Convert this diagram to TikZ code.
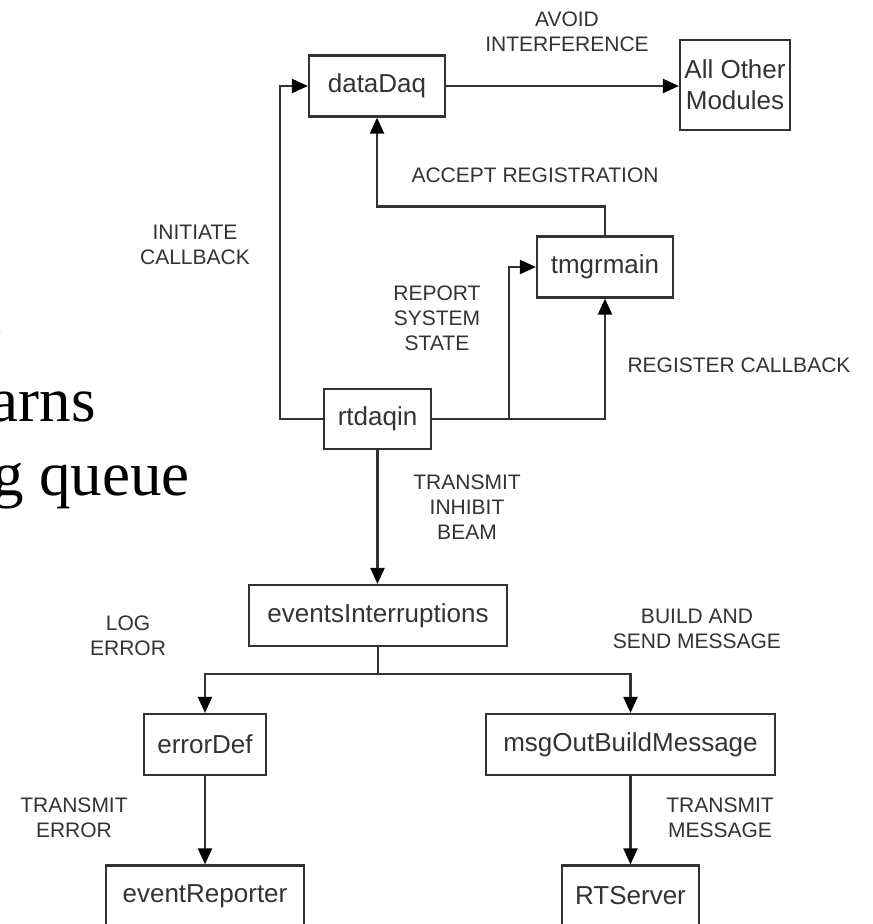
\documentclass[tikz,border=0pt]{standalone}
\usepackage{fontspec}
\setmainfont{Liberation Sans}
\newfontfamily\serifface{Liberation Serif}
\usetikzlibrary{arrows.meta}

\definecolor{ink}{HTML}{333333}
\definecolor{txt}{HTML}{333333}

\begin{document}
\begin{tikzpicture}[x=1pt,y=-1pt,
  box/.style={draw=ink, line width=2.2pt, fill=white, minimum height=61pt,
    inner sep=0pt, font=\fontsize{26}{31}\selectfont, text=txt, align=center},
  lbl/.style={font=\fontsize{21}{25}\selectfont, text=txt, align=center, inner sep=0pt},
  wire/.style={draw=ink, line width=2.2pt},
  flow/.style={wire, -{Triangle[length=16pt,width=14pt,color=black]}},
  slide/.style={font=\serifface\fontsize{63}{75}\selectfont, text=black, anchor=base east, inner sep=0pt}]
\useasboundingbox (0,0) rectangle (873,924);
\clip (0,0) rectangle (873,924);
\fill[white] (0,0) rectangle (873,924);

% text of the slide running off the left edge
\node[slide] (s1) at (3,347) {to};
\node[slide] (s2) at (96,421) {warns};
\node[slide] (s3) at (190,495) {messaging queue};

% modules
\node[box, minimum width=136pt] (dataDaq) at (377,86) {dataDaq};
\node[box, minimum width=110pt, minimum height=90pt] (others) at (735,85) {All Other\\Modules};
\node[box, minimum width=136pt] (tmgrmain) at (605,267) {tmgrmain};
\node[box, minimum width=107pt, minimum height=60pt] (rtdaqin) at (377.5,419) {rtdaqin};
\node[box, minimum width=258pt] (events) at (378,615.5) {eventsInterruptions};
\node[box, minimum width=122pt] (errorDef) at (205,744.5) {errorDef};
\node[box, minimum width=289pt] (msgOut) at (630.5,744.5) {msgOutBuildMessage};
\node[box, minimum width=198pt] (eventRep) at (205,896) {eventReporter};
\node[box, minimum width=137pt] (rtserver) at (630.5,896) {RTServer};

% connectors
\draw[flow] (dataDaq.east) -- (dataDaq.east -| others.west);
\draw[flow] (rtdaqin.west) -- ++(-43,0) |- (dataDaq.west);
\draw[flow] (tmgrmain.north) -- ++(0,-29) -| (dataDaq.south);
\draw[flow] (rtdaqin.east) -- ++(77,0) |- (tmgrmain.west);
\draw[flow] (rtdaqin.east) -| (tmgrmain.south);
\draw[flow] (rtdaqin.south) -- (rtdaqin.south |- events.north);
\coordinate (split) at (378,674);
\draw[wire] (events.south) -- (split);
\draw[flow] (split) -| (errorDef.north);
\draw[flow] (split) -| (msgOut.north);
\draw[flow] (errorDef.south) -- (eventRep.north);
\draw[flow] (msgOut.south) -- (rtserver.north);

% connector labels
\node[lbl] (l1) at (567,31.5) {AVOID\\INTERFERENCE};
\node[lbl] (l2) at (535,175) {ACCEPT REGISTRATION};
\node[lbl] (l3) at (195,244.5) {INITIATE\\CALLBACK};
\node[lbl] (l4) at (437,318) {REPORT\\SYSTEM\\STATE};
\node[lbl] (l5) at (739,365) {REGISTER CALLBACK};
\node[lbl] (l6) at (467,507) {TRANSMIT\\INHIBIT\\BEAM};
\node[lbl] (l7) at (128,635.5) {LOG\\ERROR};
\node[lbl] (l8) at (697,628.5) {BUILD AND\\SEND MESSAGE};
\node[lbl] (l9) at (74,817.5) {TRANSMIT\\ERROR};
\node[lbl] (l10) at (720,817.5) {TRANSMIT\\MESSAGE};
\end{tikzpicture}
\end{document}
